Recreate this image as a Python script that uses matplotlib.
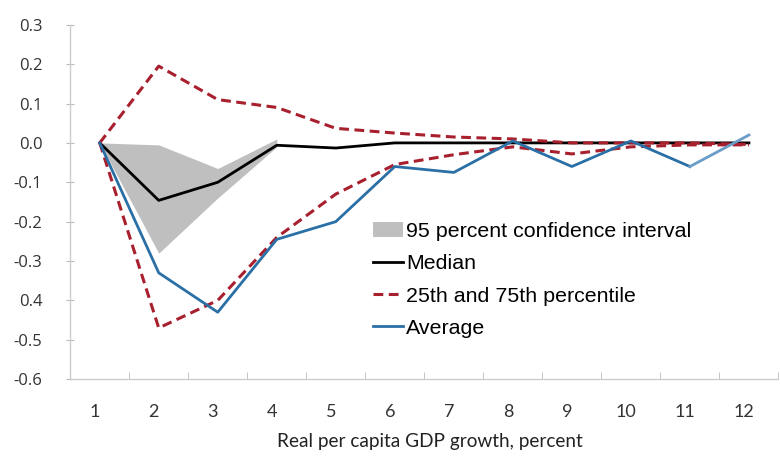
import matplotlib.pyplot as plt
import matplotlib.transforms as mtransforms
import numpy as np

# horizon (categories on the x axis)
steps = [1, 2, 3, 4, 5, 6, 7, 8, 9, 10, 11, 12]

ci_upper = [0.0, -0.005, -0.065, 0.01]
ci_lower = [0.0, -0.28, -0.14, -0.01]
median = [0.0, -0.146, -0.10, -0.006, -0.013, 0.0, 0.0, 0.0, 0.0, 0.0, 0.0, 0.0]
p75 = [0.0, 0.195, 0.11, 0.09, 0.037, 0.025, 0.015, 0.01, 0.0, 0.0, 0.0, -0.004]
p25 = [0.0, -0.47, -0.40, -0.24, -0.13, -0.055, -0.03, -0.01, -0.028, -0.01, -0.005, -0.005]
average = [0.0, -0.33, -0.43, -0.245, -0.20, -0.06, -0.075, 0.005, -0.06, 0.005, -0.06, 0.02]

ytick_vals = [0.3, 0.2, 0.1, 0.0, -0.1, -0.2, -0.3, -0.4, -0.5, -0.6]
ytick_labels = ["0.3", "0.2", "0.1", "0.0", "-0.1", "-0.2", "-0.3", "0.4", "-0.5", "-0.6"]

fig = plt.figure(figsize=(7.8, 4.59), dpi=100)
ax = fig.add_axes([0.09, 0.174, 0.908, 0.772])

x = np.array(steps)
n_ci = len(ci_upper)
ax.fill_between(x[:n_ci], ci_lower, ci_upper, color="#bfbfbf", lw=0,
                label="95 percent confidence interval")
ax.plot(x, median, color="black", lw=2.0, label="Median")
ax.plot(x, p75, color="#a8202e", lw=2.2, ls=(0, (3.2, 1.8)),
        label="25th and 75th percentile")
ax.plot(x, p25, color="#a8202e", lw=2.2, ls=(0, (3.2, 1.8)))
ax.plot(x[:-1], average[:-1], color="#2a6fa5", lw=2.0, label="Average")
ax.plot(x[-2:], average[-2:], color="#6a9cc8", lw=2.0)

ax.set_xlim(0.5, 12.5)
ax.set_ylim(-0.6, 0.3)
ax.set_yticks(ytick_vals)
ax.set_yticklabels(ytick_labels, family="Open Sans", fontsize=12, color="#333333")
ax.set_xticks(x)
ax.set_xticklabels([str(s) for s in steps], family="Lato", fontsize=13, color="#333333")
ax.set_xticks(np.arange(0.5, 13, 1), minor=True)
ax.tick_params(axis="x", which="major", length=0, pad=18)
ax.tick_params(axis="x", which="minor", length=5, direction="in", color="#bbbbbb")
ax.tick_params(axis="y", length=6, direction="inout", color="#bbbbbb", pad=17)

# labels sit a little left of the category centres in the original
shift = mtransforms.ScaledTranslation(-5 / 100, 0, fig.dpi_scale_trans)
for lbl in ax.get_xticklabels():
    lbl.set_transform(lbl.get_transform() + shift)

for side in ["top", "right"]:
    ax.spines[side].set_visible(False)
for side in ["left", "bottom"]:
    ax.spines[side].set_color("#cccccc")
    ax.spines[side].set_linewidth(1.0)

ax.set_xlabel("Real per capita GDP growth, percent", family="Lato", fontsize=13.7,
              color="#222222", labelpad=9)
ax.xaxis.label.set_x(0.508)

leg = ax.legend(loc="upper left", bbox_to_anchor=(0.428, 0.443), frameon=False,
                borderpad=0, borderaxespad=0,
                prop={"family": "Liberation Sans", "size": 15.4},
                handlelength=1.4, handletextpad=0.12, labelspacing=0.62)

fig.savefig("out.png", dpi=100)
